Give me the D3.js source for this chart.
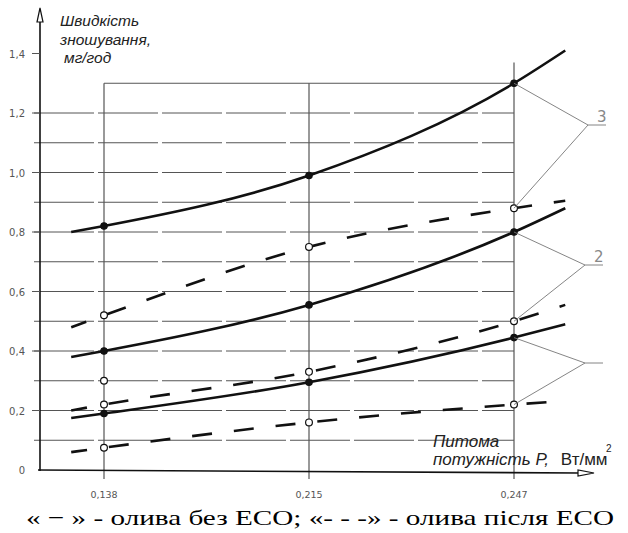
<!DOCTYPE html>
<html>
<head>
<meta charset="utf-8">
<script src="https://cdn.jsdelivr.net/npm/d3@7"></script>
<style>
  body { margin: 0; background: #fff; }
  svg { display: block; }
</style>
</head>
<body>
<svg id="chart" width="628" height="533"></svg>
<script>
// ----------- DATA ------------
const categories = ["0,138", "0,215", "0,247"];
// curve positions on the category index axis (lines run a bit past the outer categories)
const curveX = [-0.16, 0, 1, 2, 2.25];
const solid3 = [0.80, 0.82, 0.99, 1.30, 1.41];
const dashed3 = [0.48, 0.52, 0.75, 0.88, 0.905];
const solid2 = [0.38, 0.40, 0.555, 0.80, 0.88];
const dashed2 = [0.20, 0.22, 0.33, 0.50, 0.555];
const solid1 = [0.175, 0.19, 0.295, 0.445, 0.49];
const dashed1 = [0.06, 0.075, 0.16, 0.22, 0.232];
const extraPoint = 0.30;   // lone open circle at 0,138
const yTicks = [0, 0.2, 0.4, 0.6, 0.8, 1.0, 1.2, 1.4];
const yTickLabels = ["0", "0,2", "0,4", "0,6", "0,8", "1,0", "1,2", "1,4"];
const gridValues = [0.1, 0.2, 0.3, 0.4, 0.5, 0.6, 0.7, 0.8, 0.9, 1.0, 1.1, 1.2];

// ----------- SCALES ------------
const svg = d3.select("#chart");
const x = d3.scaleLinear().domain([0, 2]).range([104, 514]);
const y = d3.scaleLinear().domain([0, 1.4]).range([470, 53.5]);
const axisX = 40;
const ink = "#111";
const grid = "#555";

// ----------- GRID ------------
svg.append("g").selectAll("line")
    .data(gridValues)
    .join("line")
    .attr("x1", 34).attr("x2", x(2))
    .attr("y1", d => y(d)).attr("y2", d => y(d))
    .attr("stroke", grid).attr("stroke-width", 1)
    .attr("stroke-dasharray", "60,4");
// top border of box at 1,3
svg.append("line")
    .attr("x1", x(0)).attr("x2", x(2))
    .attr("y1", y(1.3)).attr("y2", y(1.3))
    .attr("stroke", grid).attr("stroke-width", 1);
// verticals at the categories
const vTops = [1.3, 1.3, 1.37];
svg.append("g").selectAll("line")
    .data(categories)
    .join("line")
    .attr("x1", (d, i) => x(i)).attr("x2", (d, i) => x(i))
    .attr("y1", (d, i) => y(vTops[i])).attr("y2", y(0) + 9)
    .attr("stroke", grid).attr("stroke-width", 1.2);

// ----------- AXES ------------
// y axis with arrow
svg.append("line")
    .attr("x1", axisX).attr("x2", axisX).attr("y1", 14).attr("y2", y(0) + 1)
    .attr("stroke", ink).attr("stroke-width", 1.6);
svg.append("path")
    .attr("d", `M${axisX},8 L${axisX - 3},22 L${axisX + 3},22 Z`)
    .attr("fill", "#fff").attr("stroke", ink).attr("stroke-width", 1.2);
// x axis with arrow
svg.append("line")
    .attr("x1", axisX - 2).attr("x2", 580).attr("y1", y(0)).attr("y2", y(0) + 3)
    .attr("stroke", ink).attr("stroke-width", 1.6);
svg.append("path")
    .attr("d", `M594,${y(0) + 3} L578,${y(0)} L578,${y(0) + 6} Z`)
    .attr("fill", "#fff").attr("stroke", ink).attr("stroke-width", 1.2);

// y ticks and labels
const yAxis = svg.append("g");
yAxis.selectAll("line")
    .data(yTicks.slice(1))
    .join("line")
    .attr("x1", axisX - 8).attr("x2", axisX)
    .attr("y1", d => y(d)).attr("y2", d => y(d))
    .attr("stroke", grid);
yAxis.selectAll("text")
    .data(yTicks)
    .join("text")
    .attr("x", 25).attr("y", d => y(d) + 4)
    .attr("text-anchor", "end")
    .attr("font-family", "DejaVu Sans, sans-serif")
    .attr("font-size", 10)
    .attr("fill", "#555")
    .text((d, i) => yTickLabels[i]);

// x tick labels
svg.append("g").selectAll("text")
    .data(categories)
    .join("text")
    .attr("x", (d, i) => x(i)).attr("y", 498)
    .attr("text-anchor", "middle")
    .attr("font-family", "DejaVu Sans, sans-serif")
    .attr("font-size", 9.5)
    .attr("fill", "#555")
    .text(d => d);

// ----------- CURVES ------------
const line = d3.line()
    .x(d => x(d[0]))
    .y(d => y(d[1]))
    .curve(d3.curveMonotoneX);

const series = [
    { values: solid3, dashed: false },
    { values: dashed3, dashed: true },
    { values: solid2, dashed: false },
    { values: dashed2, dashed: true },
    { values: solid1, dashed: false },
    { values: dashed1, dashed: true },
];

series.forEach(s => {
    const pts = curveX.map((cx, i) => [cx, s.values[i]]);
    svg.append("path")
        .attr("d", line(pts))
        .attr("fill", "none")
        .attr("stroke", ink)
        .attr("stroke-width", 2.6)
        .attr("stroke-dasharray", s.dashed ? "20,22" : null)
        .attr("stroke-dashoffset", s.dashed ? 4 : null);

    // markers at the three categories
    svg.append("g").selectAll("circle")
        .data(s.values.slice(1, 4))
        .join("circle")
        .attr("cx", (d, i) => x(i))
        .attr("cy", d => y(d))
        .attr("r", s.dashed ? 3.4 : 3.2)
        .attr("fill", s.dashed ? "#fff" : ink)
        .attr("stroke", ink)
        .attr("stroke-width", 1.2);
});

svg.append("circle")
    .attr("cx", x(0)).attr("cy", y(extraPoint)).attr("r", 3.4)
    .attr("fill", "#fff").attr("stroke", ink).attr("stroke-width", 1.2);

// ----------- CURVE NUMBER LEADERS ------------
const leaders = [
    { label: "3", hub: [588, 125], ends: [solid3[3], dashed3[3]] },
    { label: "2", hub: [585, 265], ends: [solid2[3], dashed2[3]] },
    { label: "", hub: [585, 363], ends: [solid1[3], dashed1[3]] },
];
leaders.forEach(l => {
    const g = svg.append("g").attr("stroke", "#777").attr("stroke-width", 0.9).attr("fill", "none");
    l.ends.forEach(v => {
        g.append("line")
            .attr("x1", l.hub[0]).attr("y1", l.hub[1])
            .attr("x2", x(2)).attr("y2", y(v));
    });
    g.append("line")
        .attr("x1", l.hub[0]).attr("y1", l.hub[1])
        .attr("x2", l.hub[0] + 18).attr("y2", l.hub[1]);
    if (l.label) {
        svg.append("text")
            .attr("x", l.hub[0] + 9).attr("y", l.hub[1] - 3)
            .attr("font-family", "DejaVu Sans, sans-serif")
            .attr("font-size", 15)
            .attr("fill", "#888")
            .text(l.label);
    }
});

// ----------- TITLES ------------
const yTitle = svg.append("text")
    .attr("font-family", "Liberation Sans, Arial, sans-serif")
    .attr("font-style", "italic")
    .attr("font-size", 15.5)
    .attr("fill", "#222");
yTitle.append("tspan").attr("x", 60).attr("y", 26).text("Швидкість");
yTitle.append("tspan").attr("x", 60).attr("y", 45).text("зношування,");
yTitle.append("tspan").attr("x", 64).attr("y", 63).text("мг/год");

const xTitle = svg.append("text")
    .attr("font-family", "Liberation Sans, Arial, sans-serif")
    .attr("font-size", 17)
    .attr("fill", "#222");
xTitle.append("tspan").attr("x", 433).attr("y", 447).attr("font-style", "italic").text("Питома");
xTitle.append("tspan").attr("x", 433).attr("y", 465).attr("font-style", "italic").text("потужність Р,");
xTitle.append("tspan").attr("dx", 12).text("Вт/мм");
svg.append("text")
    .attr("x", 606).attr("y", 452)
    .attr("font-family", "Liberation Sans, Arial, sans-serif")
    .attr("font-size", 10)
    .attr("fill", "#222")
    .text("2");

// caption
svg.append("text")
    .attr("x", 26).attr("y", 525)
    .attr("font-family", "Liberation Serif, Times New Roman, serif")
    .attr("font-size", 22)
    .attr("fill", "#000")
    .attr("textLength", 588)
    .attr("lengthAdjust", "spacingAndGlyphs")
    .text("« − » - олива без ЕСО; «- - -» - олива після ЕСО");
</script>
</body>
</html>
